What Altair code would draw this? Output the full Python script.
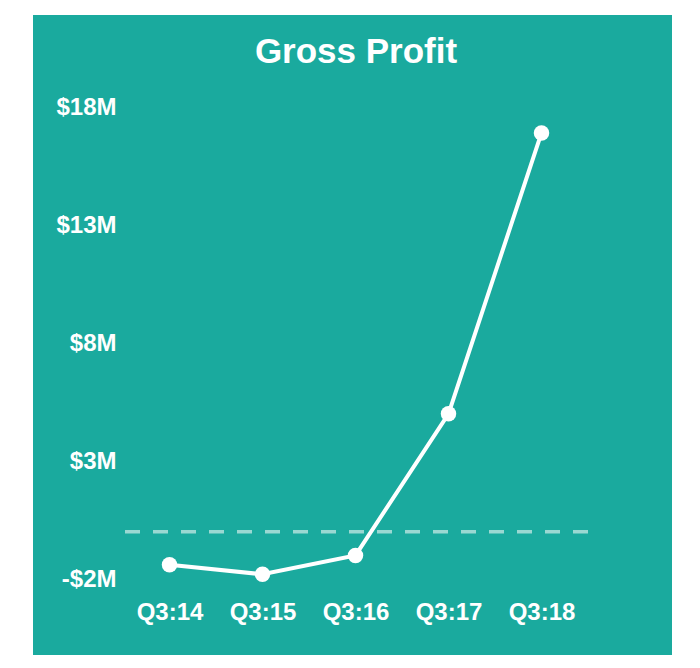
import altair as alt
import pandas as pd

quarters = ["Q3:14", "Q3:15", "Q3:16", "Q3:17", "Q3:18"]
gross_profit_m = [-1.4, -1.8, -1.0, 5.0, 16.9]
y_ticks = [-2, 3, 8, 13, 18]
title_text = "Gross Profit"

TEAL = "#1AAA9E"
FONT = "Liberation Sans"

df = pd.DataFrame({"quarter": quarters, "profit": gross_profit_m})

y_scale = alt.Scale(domain=[-2, 18], nice=False, zero=False)

bg = alt.Chart(alt.Data(values=[{}])).mark_rect(color=TEAL).encode(
    x=alt.value(-90), x2=alt.value(549), y=alt.value(-92), y2=alt.value(548)
)

title = alt.Chart(alt.Data(values=[{"t": title_text}])).mark_text(
    font=FONT, fontSize=35, fontWeight="bold", color="white",
    align="center", baseline="alphabetic",
).encode(text="t:N", x=alt.value(233), y=alt.value(-44))

zero_rule = alt.Chart(alt.Data(values=[{}])).mark_rule(
    color="#a9ddd7", strokeWidth=3.5, strokeDash=[15, 13], opacity=0.9
).encode(y=alt.datum(0, scale=y_scale))

base = alt.Chart(df).encode(
    x=alt.X(
        "quarter:N",
        sort=quarters,
        scale=alt.Scale(type="point", padding=0.5),
        axis=alt.Axis(
            title=None, labelAngle=0, ticks=False, domain=False,
            labelPadding=21, labelFontSize=24, labelFont=FONT,
            labelFontWeight="bold", labelColor="white", zindex=1, grid=False,
        ),
    ),
    y=alt.Y(
        "profit:Q",
        scale=y_scale,
        axis=alt.Axis(
            title=None, values=y_ticks, ticks=False, domain=False,
            labelPadding=7, labelFontSize=24, labelFont=FONT,
            labelFontWeight="bold", labelColor="white",
            labelExpr="datum.value < 0 ? '-$' + abs(datum.value) + 'M' : '$' + datum.value + 'M'",
            gridColor="white", gridOpacity=0.12, gridWidth=1.5, zindex=1,
        ),
    ),
)

line = base.mark_line(color="white", strokeWidth=4)
pts = base.mark_circle(color="white", opacity=1, size=240)

chart = alt.layer(bg, title, zero_rule, line, pts).properties(
    width=465,
    height=472,
    padding={"left": 25, "top": 7, "right": 5, "bottom": 5},
    background="white",
).configure_view(stroke=None)

chart.save("out.html", embed_options={"renderer": "svg", "actions": False})
